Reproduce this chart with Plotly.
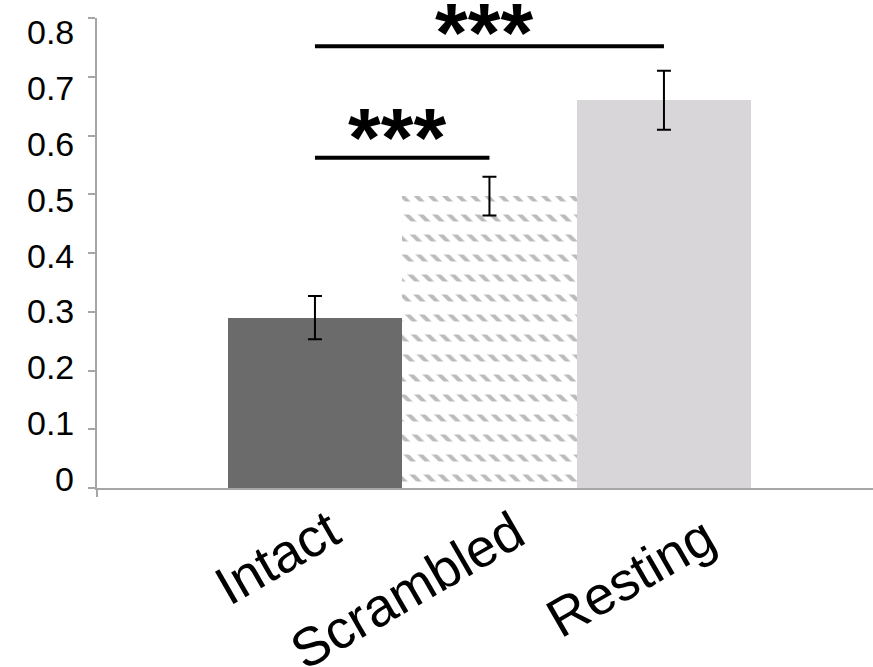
import plotly.graph_objects as go

# Condition means and standard errors
conditions = ["Intact", "Scrambled", "Resting"]
means = [0.29, 0.497, 0.66]
errors = [0.037, 0.033, 0.05]

# Significance brackets: (left condition, right condition, height, label)
sig_left = [0, 0]
sig_right = [2, 1]
sig_height = [0.752, 0.562]
sig_label = ["***", "***"]

# Y-axis tick values and labels
y_ticks = [0, 0.1, 0.2, 0.3, 0.4, 0.5, 0.6, 0.7, 0.8]
y_tick_text = ["0", "0.1", "0.2", "0.3", "0.4", "0.5", "0.6", "0.7", "0.8"]

W, H = 873, 667
ML, MR, MT, MB = 97, 0, 18, 179
PW, PH = W - ML - MR, H - MT - MB

X_RANGE = [-1.249, 3.198]
AXIS_GREY = "#a6a6a6"
FONT = "Liberation Sans, Arial, sans-serif"

bar_colors = ["#6b6b6b", "#ffffff", "#d8d6d8"]

fig = go.Figure()

positions = list(range(len(conditions)))

# Solid bars (Intact, Resting) and the hatched base of Scrambled
for i, (name, val) in enumerate(zip(conditions, means)):
    if name == "Scrambled":
        fig.add_trace(go.Bar(
            x=[positions[i]], y=[val], width=1.0,
            marker=dict(color="white", line=dict(width=0),
                        pattern=dict(shape="\\", fgcolor="#777777", bgcolor="white",
                                     size=10, solidity=0.4, fillmode="overlay")),
            showlegend=False, hoverinfo="skip",
        ))
        # white horizontal bands break the diagonal hatching into rows
        fig.add_trace(go.Bar(
            x=[positions[i]], y=[val], width=1.0,
            marker=dict(color="rgba(0,0,0,0)", line=dict(width=0),
                        pattern=dict(shape="-", fgcolor="white", bgcolor="rgba(0,0,0,0)",
                                     size=20, solidity=0.65, fillmode="overlay",
                                     fgopacity=1)),
            showlegend=False, hoverinfo="skip",
        ))
    else:
        fig.add_trace(go.Bar(
            x=[positions[i]], y=[val], width=1.0,
            marker=dict(color=bar_colors[i], line=dict(width=0)),
            showlegend=False, hoverinfo="skip",
        ))

# Error bars drawn on top of all bars
fig.add_trace(go.Scatter(
    x=positions, y=means, mode="markers",
    marker=dict(size=0.1, color="rgba(0,0,0,0)"),
    error_y=dict(type="data", array=errors, visible=True,
                 color="black", thickness=2, width=7),
    showlegend=False, hoverinfo="skip",
))

# Significance brackets with their star labels (label lift in px)
star_shift = [13, 20]
for a, b, h, lab, ys in zip(sig_left, sig_right, sig_height, sig_label, star_shift):
    fig.add_shape(type="line", x0=positions[a], x1=positions[b], y0=h, y1=h,
                  xref="x", yref="y", line=dict(color="black", width=4))
    fig.add_annotation(x=(positions[a] + positions[b]) / 2 - 0.03, y=h,
                       xref="x", yref="y", text="<b>" + lab + "</b>",
                       showarrow=False, xanchor="center", yanchor="middle",
                       yshift=ys, font=dict(size=84, color="black", family=FONT))

# Y tick labels, spaced slightly tighter than the tick marks
for k, (v, t) in enumerate(zip(y_ticks, y_tick_text)):
    fig.add_annotation(x=0, y=v, xref="paper", yref="y", text=t,
                       showarrow=False, xanchor="right", yanchor="middle",
                       xshift=-21, yshift=9 - 2.9 * k,
                       font=dict(size=34, color="black", family=FONT))

# Rotated category labels (centers in pixel space)
label_centers = [(277, 557), (407, 590), (630, 577)]
for name, (cx, cy) in zip(conditions, label_centers):
    fig.add_annotation(x=(cx - ML) / PW, y=(H - MB - cy) / PH,
                       xref="paper", yref="paper", text=name, textangle=-30,
                       showarrow=False, xanchor="center", yanchor="middle",
                       font=dict(size=54, color="black", family=FONT))

fig.update_layout(
    width=W, height=H,
    margin=dict(l=ML, r=MR, t=MT, b=MB, pad=0),
    paper_bgcolor="white", plot_bgcolor="white",
    barmode="overlay", bargap=0,
    xaxis=dict(range=X_RANGE, showgrid=False, zeroline=False,
               showline=True, linecolor=AXIS_GREY, linewidth=2,
               ticks="outside", tickvals=[X_RANGE[0]], ticklen=7,
               tickcolor=AXIS_GREY, tickwidth=2, showticklabels=False),
    yaxis=dict(range=[0, 0.8], showgrid=False, zeroline=False,
               showline=True, linecolor=AXIS_GREY, linewidth=2,
               ticks="outside", tickvals=y_ticks, ticklen=7,
               tickcolor=AXIS_GREY, tickwidth=2, showticklabels=False),
)

fig.write_html("out.html")
